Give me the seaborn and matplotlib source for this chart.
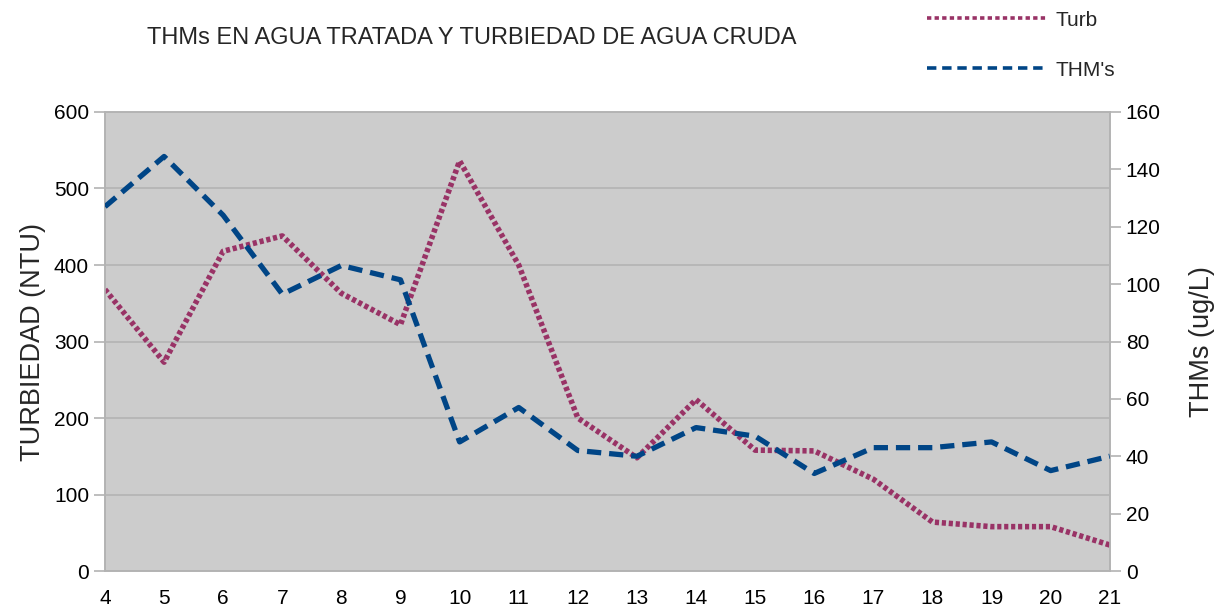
import matplotlib
matplotlib.use('Agg')
import matplotlib.pyplot as plt
import seaborn as sns
import pandas as pd
from matplotlib.lines import Line2D

sns.set_style('white')
plt.rcParams['font.family'] = ['Liberation Sans', 'DejaVu Sans']

# data
dias = [4, 5, 6, 7, 8, 9, 10, 11, 12, 13, 14, 15, 16, 17, 18, 19, 20, 21]
turb = [368, 273, 418, 438, 363, 322, 536, 400, 200, 148, 224, 158, 157, 120, 64, 58, 58, 34]
thms = [127, 144.5, 124, 96.5, 106.5, 101.5, 45, 57, 42, 40, 50, 47, 34, 43, 43, 45, 35, 40]

df = pd.DataFrame({'Dia': dias, 'Turb': turb, "THM's": thms})

C_TURB = '#993366'
C_THM = '#004586'
GRIS = '#b3b3b3'

W, H = 1215, 614
fig = plt.figure(figsize=(W / 100, H / 100), dpi=100)
ax = fig.add_axes([0.0864, 0.070, 0.827, 0.7476])
ax2 = ax.twinx()

sns.lineplot(data=df, x='Dia', y='Turb', ax=ax, color=C_TURB, linewidth=4.0, zorder=3)
ax.lines[0].set_dashes((0.75, 0.5))
sns.lineplot(data=df, x='Dia', y="THM's", ax=ax2, color=C_THM, linewidth=3.8, zorder=3)
ax2.lines[0].set_dashes((2.7, 1.5))

ax.set_facecolor('#cccccc')
ax.set_xlim(4, 21)
ax.set_ylim(0, 600)
ax2.set_ylim(0, 160)
ax.set_xticks(dias)
ax.set_yticks(range(0, 601, 100))
ax2.set_yticks(range(0, 161, 20))
ax.yaxis.grid(True, color=GRIS, linewidth=1.2)
ax.set_axisbelow(True)

for a in (ax, ax2):
    for s in a.spines.values():
        s.set_color(GRIS)
        s.set_linewidth(1.2)
    a.tick_params(axis='both', which='major', length=8, width=1.2, color=GRIS,
                  labelsize=15, labelcolor='black', direction='out')
ax.tick_params(axis='x', pad=5)

ax.set_xlabel('')
ax.set_ylabel('TURBIEDAD (NTU)', fontsize=19.5, labelpad=6)
ax2.set_ylabel('THMs (ug/L)', fontsize=19.5, labelpad=20)

fig.text(472 / W, 1 - 38 / H, 'THMs EN AGUA TRATADA Y TURBIEDAD DE AGUA CRUDA',
         ha='center', va='center', fontsize=17)

# legend drawn by hand at the top right
for ypix, col, dash, label in [(18, C_TURB, (1.2, 0.9), 'Turb'),
                               (68, C_THM, (2.6, 1.6), "THM's")]:
    y = 1 - ypix / H
    fig.add_artist(Line2D([927 / W, 1047 / W], [y, y], color=col, linewidth=2.6,
                          dashes=dash, transform=fig.transFigure))
    fig.text(1055 / W, y - 2 / H, label, ha='left', va='center', fontsize=15)

fig.savefig('out.png', dpi=100)
